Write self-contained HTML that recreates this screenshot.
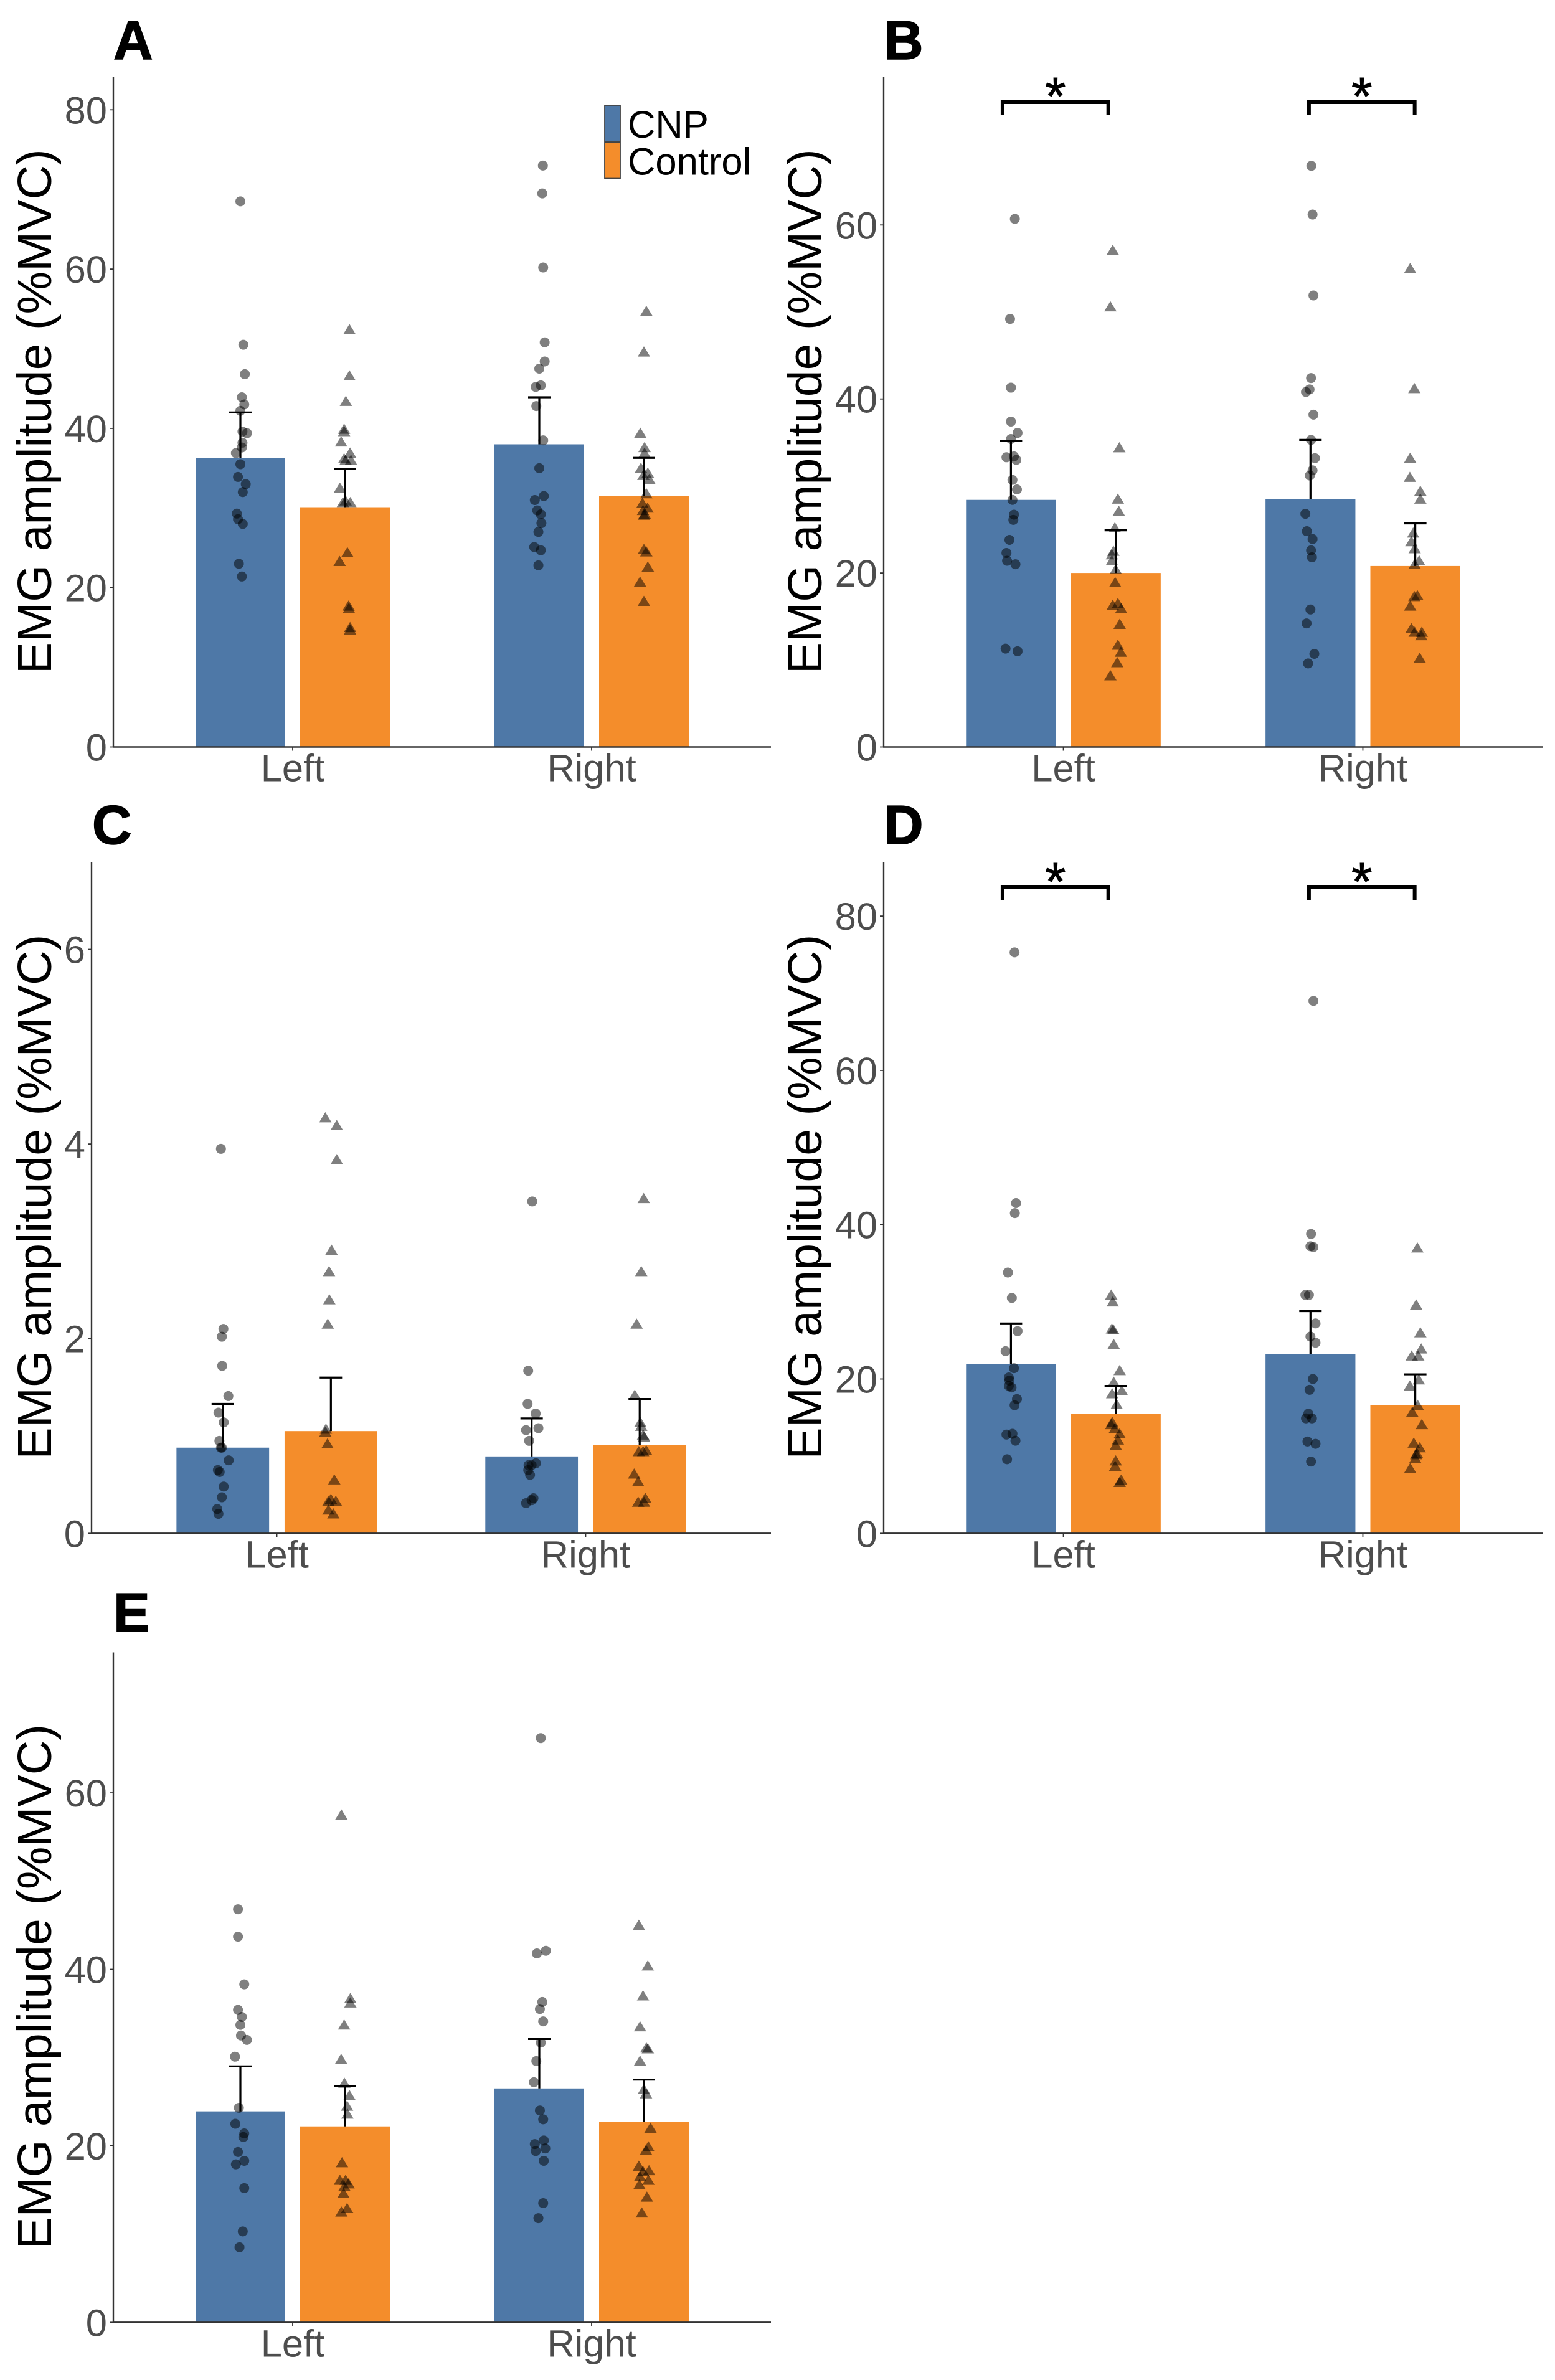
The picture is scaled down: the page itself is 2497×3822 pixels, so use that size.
<!DOCTYPE html>
<html lang="en">
<head>
<meta charset="utf-8">
<title>EMG amplitude by side and group</title>
<style>
html,body{margin:0;padding:0;background:#fff;}
svg{display:block;font-family:"Liberation Sans",Arial,sans-serif;}
</style>
</head>
<body>
<svg id="figure" xmlns="http://www.w3.org/2000/svg" width="2497" height="3822" viewBox="0 0 2497 3822"></svg>
<script>
const categories = ['Left', 'Right'];
const yAxisTitle = 'EMG amplitude (%MVC)';
const legendLabels = ['CNP', 'Control'];
const barColors = ['#4e78a7', '#f48d2b'];

/* Panel A */
const aTicks = [0, 20, 40, 60, 80];
const aMeans = [36.3, 30.1, 38.0, 31.5];
const aErrorTops = [42.0, 34.9, 43.9, 36.3];
const aCnpLeft = [68.5,50.5,46.8,43.9,43.0,42.2,39.6,39.4,38.2,37.6,36.9,35.5,33.9,33.0,32.0,29.3,28.6,28.0,23.0,21.4];
const aCnpLeftJitter = [0,.01,.015,.005,.013,0,.007,.022,.007,.005,-.015,0,-.008,.018,.008,-.012,-.008,.008,-.005,.005];
const aControlLeft = [52.4,46.6,43.4,39.9,39.6,38.3,36.9,36.2,36.0,36.0,32.5,30.9,30.7,30.7,24.4,23.3,17.7,17.4,15.0,14.7];
const aControlLeftJitter = [.015,.015,.003,-.003,-.003,-.013,.017,-.003,.02,.002,-.017,.002,-.007,.018,.008,-.018,.012,.013,.017,.017];
const aCnpRight = [73.0,69.5,60.2,50.8,48.4,47.5,45.4,45.2,42.8,38.5,35.0,31.5,31.0,29.7,29.2,28.1,27.0,25.1,24.7,22.8];
const aCnpRightJitter = [.012,.01,.013,.018,.018,0,.005,-.012,-.01,.013,0,.015,-.015,-.007,.005,.007,-.003,-.017,.005,-.003];
const aControlRight = [54.7,49.6,39.4,37.6,36.9,35.0,34.4,34.1,33.6,31.8,30.6,30.0,29.7,29.2,29.1,24.8,24.5,22.6,20.7,18.3];
const aControlRightJitter = [.008,0,-.012,.002,.002,-.01,.013,-.002,.018,.008,-.005,.012,-.003,.003,0,0,.008,.013,-.013,0];

/* Panel B */
const bTicks = [0, 20, 40, 60];
const bMeans = [28.4, 20.0, 28.5, 20.8];
const bErrorTops = [35.2, 24.9, 35.3, 25.7];
const bCnpLeft = [60.7,49.2,41.3,37.4,36.1,35.4,33.3,33.4,33.0,30.7,29.6,28.4,26.7,26.1,23.8,22.3,21.4,21.0,11.3,11.0];
const bCnpLeftJitter = [.013,-.003,0,0,.022,0,-.015,.01,.018,.005,.02,.005,.01,.008,-.005,-.015,-.013,.015,-.018,.022];
const bControlLeft = [57.1,50.6,34.4,28.5,27.1,25.2,22.5,22.1,21.4,20.4,18.9,16.5,16.3,15.9,14.1,11.7,10.9,9.7,8.2];
const bControlLeftJitter = [-.01,-.018,.012,.007,.01,-.003,-.008,-.013,-.013,0,-.002,.007,-.01,.018,.013,.007,.017,.005,-.018];
const bCnpRight = [66.8,61.2,51.9,42.4,41.1,40.8,38.2,35.3,33.2,31.8,31.2,26.8,24.8,23.9,22.6,21.8,15.8,14.2,10.7,9.6];
const bCnpRightJitter = [.003,.007,.01,.002,-.003,-.015,.01,.002,.015,.007,-.002,-.017,-.012,.007,.002,.005,0,-.013,.013,-.008];
const bControlRight = [55.0,41.2,33.2,31.0,29.4,28.5,24.6,23.6,22.8,21.4,21.0,17.4,17.3,16.2,13.6,13.2,13.2,12.8,10.2];
const bControlRightJitter = [-.017,-.003,-.017,-.018,.017,.017,-.007,-.013,-.002,.013,-.002,.007,-.003,-.017,-.013,-.002,.022,.02,.015];
const bSignificance = ['*', '*'];

/* Panel C */
const cTicks = [0, 2, 4, 6];
const cMeans = [0.88, 1.05, 0.79, 0.91];
const cErrorTops = [1.33, 1.60, 1.18, 1.38];
const cCnpLeft = [3.95,2.10,2.02,1.72,1.41,1.24,1.14,.95,.88,.88,.75,.65,.63,.48,.37,.25,.20];
const cCnpLeftJitter = [-.006,.002,-.003,-.002,.018,-.014,.003,-.011,-.003,-.006,.019,-.016,-.01,.003,-.003,-.018,-.014];
const cControlLeft = [4.27,4.19,3.84,2.91,2.69,2.40,2.15,1.07,1.04,.92,.55,.35,.33,.33,.24,.20];
const cControlLeftJitter = [-.018,.019,.019,.002,-.006,-.005,-.01,-.016,-.018,-.011,.011,0,-.008,.016,-.008,.008];
const cCnpRight = [3.41,1.67,1.33,1.23,1.06,1.08,.95,.72,.70,.70,.65,.60,.36,.34,.31];
const cCnpRightJitter = [.002,-.011,-.013,.013,-.018,.022,-.008,.014,-.01,0,-.011,-.005,.006,0,-.018];
const cControlRight = [3.44,2.69,2.15,1.42,1.14,1.10,1.01,.99,.84,.85,.84,.61,.53,.36,.32,.32];
const cControlRightJitter = [.013,.005,-.01,-.016,.002,.005,.011,.014,-.003,.021,.011,-.018,-.005,.018,-.005,.014];

/* Panel D */
const dTicks = [0, 20, 40, 60, 80];
const dMeans = [21.9, 15.5, 23.2, 16.6];
const dErrorTops = [27.2, 19.1, 28.8, 20.6];
const dCnpLeft = [75.3,42.8,41.5,33.8,30.5,26.2,23.6,21.4,20.2,19.8,19.1,18.9,17.4,16.6,12.8,12.9,12.0,9.6];
const dCnpLeftJitter = [.012,.017,.013,-.01,.003,.022,-.018,.01,-.007,-.005,-.007,.002,.02,.012,-.015,.005,.015,-.013];
const dControlLeft = [30.9,30.0,26.5,26.4,24.5,21.1,19.6,18.5,18.1,16.7,14.4,14.1,13.6,12.9,12.1,11.4,9.4,8.7,6.9,6.6];
const dControlLeftJitter = [-.015,-.01,-.013,-.008,-.007,.013,-.007,.02,-.012,.003,-.012,-.015,-.003,.013,.007,0,0,-.002,.018,.013];
const dCnpRight = [69.0,38.8,37.1,37.2,30.9,30.9,27.2,25.5,24.7,20.0,18.6,15.5,14.9,14.9,11.9,11.6,9.3];
const dCnpRightJitter = [.01,.002,.01,0,-.017,-.005,.017,0,.017,.008,-.003,-.007,-.015,.005,-.01,.017,.002];
const dControlRight = [37.0,29.6,26.0,23.9,23.0,23.0,19.9,19.1,16.6,15.7,14.1,11.7,11.1,10.4,10.2,9.7,8.4];
const dControlRightJitter = [.007,.003,.017,.02,-.012,.01,.012,-.018,.008,-.01,.022,-.005,.015,.005,.003,0,-.017];
const dSignificance = ['*', '*'];

/* Panel E */
const eTicks = [0, 20, 40, 60];
const eMeans = [23.9, 22.2, 26.5, 22.7];
const eErrorTops = [29.0, 26.8, 32.1, 27.5];
const eCnpLeft = [46.8,43.7,38.3,35.4,34.6,33.7,32.5,32.0,30.1,24.3,22.5,21.4,21.0,19.3,18.3,17.9,15.2,10.3,8.5];
const eCnpLeftJitter = [-.008,-.008,.013,-.008,.005,0,.002,.022,-.018,-.005,-.017,.013,.01,-.008,.013,-.015,.013,.008,-.003];
const eControlLeft = [57.5,36.7,36.2,33.7,29.8,27.1,25.7,24.5,23.6,18.1,16.1,16.1,15.7,15.4,14.6,12.9,12.5];
const eControlLeftJitter = [-.012,.018,.018,-.003,-.013,-.002,.015,.007,.008,-.01,-.017,.002,.012,-.002,-.005,.007,-.012];
const eCnpRight = [66.2,42.1,41.8,36.3,35.5,34.1,31.7,29.6,27.2,24.0,23.0,20.6,20.2,19.7,19.4,18.3,13.5,11.8];
const eCnpRightJitter = [.005,.022,-.008,.01,.002,.013,.005,-.01,-.018,.002,.013,.015,-.015,.02,-.012,.015,.013,-.003];
const eControlRight = [45.0,40.4,37.0,33.5,31.1,31.0,29.6,26.4,25.9,22.0,19.9,19.5,17.7,17.2,17.1,16.5,16.1,15.6,14.2,12.4];
const eControlRightJitter = [-.017,.013,-.003,-.013,.008,.013,-.013,0,.007,.022,.015,.007,-.017,.017,-.003,-.013,.015,-.015,.01,-.007];

const SVGNS = 'http://www.w3.org/2000/svg';
const figure = document.getElementById('figure');

function make(parent, tag, attrs, text) {
  const el = document.createElementNS(SVGNS, tag);
  for (const k in attrs) el.setAttribute(k, attrs[k]);
  if (text !== undefined) el.textContent = text;
  parent.appendChild(el);
  return el;
}

function drawPanel(p) {
  const g = make(figure, 'g', {});
  
  

  const unit = (p.right - p.left) / 2.2;
  const yScale = v => p.bottom - v * p.pxPerUnit;
  const tickX = cat => p.left + (0.6 + cat) * unit;
  const xScale = (cat, group, jitter) => tickX(cat) + ((group ? 0.175 : -0.175) + jitter) * unit;
  const barWidth = 0.3 * unit;

  const letter = make(g, 'text', {x: p.letterX, y: p.letterY, 'font-size': 88, 'font-weight': 'bold', fill: '#000', stroke: '#000', 'stroke-width': 1.5}, p.letter);
  
  

  const title = make(g, 'text', {transform: 'translate(' + p.titleX + ',' + ((p.top + p.bottom) / 2 - 1) + ') rotate(-90)', 'text-anchor': 'middle', 'font-size': 77, fill: '#000'}, yAxisTitle);
  
  

  /* bars */
  p.means.forEach((m, i) => {
    const cat = Math.floor(i / 2), grp = i % 2;
    const cx = xScale(cat, grp, 0);
    const bar = make(g, 'rect', {x: cx - barWidth / 2, y: yScale(m), width: barWidth, height: p.bottom - yScale(m), fill: barColors[grp]});
    
    
  });

  /* points */
  p.values.forEach((vals, i) => {
    const cat = Math.floor(i / 2), grp = i % 2;
    vals.forEach((v, j) => {
      const px = xScale(cat, grp, p.jitters[i][j]);
      const py = yScale(v);
      let mark;
      if (grp === 0) {
        mark = make(g, 'circle', {cx: px, cy: py, r: 8, fill: '#000', 'fill-opacity': 0.5});
        
        
      } else {
        mark = make(g, 'polygon', {points: (px - 10) + ',' + (py + 7.5) + ' ' + (px + 10) + ',' + (py + 7.5) + ' ' + px + ',' + (py - 9), fill: '#000', 'fill-opacity': 0.5});
        
        
      }
    });
  });

  /* error bars */
  p.means.forEach((m, i) => {
    const cat = Math.floor(i / 2), grp = i % 2;
    const cx = xScale(cat, grp, 0);
    const top = yScale(p.errorTops[i]);
    const err = make(g, 'path', {d: 'M' + cx + ' ' + yScale(m) + 'V' + top + 'M' + (cx - 18) + ' ' + top + 'H' + (cx + 18), stroke: '#000', 'stroke-width': 3.2, fill: 'none'});
    
    
  });

  /* axes */
  const yAxis = make(g, 'line', {x1: p.left, x2: p.left, y1: p.top, y2: p.bottom, stroke: '#333', 'stroke-width': 2.4});
  
  
  const xAxis = make(g, 'line', {x1: p.left - 1, x2: p.right, y1: p.bottom, y2: p.bottom, stroke: '#333', 'stroke-width': 2.4});
  
  

  p.ticks.forEach(t => {
    const y = yScale(t);
    const tick = make(g, 'line', {x1: p.left - 6, x2: p.left, y1: y, y2: y, stroke: '#333', 'stroke-width': 1.8});
    
    
    const label = make(g, 'text', {x: p.left - 10, y: y + 22, 'text-anchor': 'end', 'font-size': 61.5, fill: '#4d4d4d'}, String(t));
    
    
  });

  categories.forEach((c, i) => {
    const x = tickX(i);
    const tick = make(g, 'line', {x1: x, x2: x, y1: p.bottom, y2: p.bottom + 6, stroke: '#333', 'stroke-width': 1.8});
    
    
    const label = make(g, 'text', {x: x, y: p.bottom + 55, 'text-anchor': 'middle', 'font-size': 61.5, fill: '#4d4d4d'}, c);
    
    
  });

  /* significance brackets: spans given in category units relative to each tick */
  if (p.significance) {
    p.significance.forEach((s, i) => {
      const x1 = tickX(i) + p.bracketSpans[i][0] * unit;
      const x2 = tickX(i) + p.bracketSpans[i][1] * unit;
      const y = p.bracketY;
      const br = make(g, 'path', {d: 'M' + x1 + ' ' + (y + 21) + 'V' + y + 'H' + x2 + 'V' + (y + 21), stroke: '#000', 'stroke-width': 6, fill: 'none'});
      
      
      const star = make(g, 'text', {x: (x1 + x2) / 2, y: y + 20, 'text-anchor': 'middle', 'font-size': 85, fill: '#000', stroke: '#000', 'stroke-width': 1}, s);
      
      
    });
  }
}

drawPanel({letter:'A', left:182, right:1238, top:124, bottom:1199.5, pxPerUnit:12.79, letterX:182, letterY:95, titleX:82,
  ticks:aTicks, means:aMeans, errorTops:aErrorTops,
  values:[aCnpLeft,aControlLeft,aCnpRight,aControlRight],
  jitters:[aCnpLeftJitter,aControlLeftJitter,aCnpRightJitter,aControlRightJitter]});

drawPanel({letter:'B', left:1419, right:2477, top:124, bottom:1199.5, pxPerUnit:13.97, letterX:1419, letterY:95, titleX:1319,
  ticks:bTicks, means:bMeans, errorTops:bErrorTops,
  values:[bCnpLeft,bControlLeft,bCnpRight,bControlRight],
  jitters:[bCnpLeftJitter,bControlLeftJitter,bCnpRightJitter,bControlRightJitter],
  significance:bSignificance, bracketY:164, bracketSpans:[[-.203,.150],[-.180,.173]]});

drawPanel({letter:'C', left:147, right:1238, top:1384, bottom:2462.3, pxPerUnit:156.3, letterX:148, letterY:1355, titleX:82,
  ticks:cTicks, means:cMeans, errorTops:cErrorTops,
  values:[cCnpLeft,cControlLeft,cCnpRight,cControlRight],
  jitters:[cCnpLeftJitter,cControlLeftJitter,cCnpRightJitter,cControlRightJitter]});

drawPanel({letter:'D', left:1419, right:2477, top:1384, bottom:2462.3, pxPerUnit:12.39, letterX:1419, letterY:1355, titleX:1319,
  ticks:dTicks, means:dMeans, errorTops:dErrorTops,
  values:[dCnpLeft,dControlLeft,dCnpRight,dControlRight],
  jitters:[dCnpLeftJitter,dControlLeftJitter,dCnpRightJitter,dControlRightJitter],
  significance:dSignificance, bracketY:1425, bracketSpans:[[-.203,.150],[-.180,.173]]});

drawPanel({letter:'E', left:182, right:1238, top:2653.5, bottom:3729.3, pxPerUnit:14.17, letterX:182, letterY:2620, titleX:82,
  ticks:eTicks, means:eMeans, errorTops:eErrorTops,
  values:[eCnpLeft,eControlLeft,eCnpRight,eControlRight],
  jitters:[eCnpLeftJitter,eControlLeftJitter,eCnpRightJitter,eControlRightJitter]});

/* legend, panel A */
const legend = make(figure, 'g', {});


legendLabels.forEach((name, i) => {
  const key = make(legend, 'rect', {x: 971, y: 169 + i * 59.5, width: 25, height: 58, fill: barColors[i], stroke: '#444', 'stroke-width': 1.8});
  
  
  const label = make(legend, 'text', {x: 1008, y: 221 + i * 59.5, 'font-size': 61.5, fill: '#000'}, name);
  
  
});
</script>
</body>
</html>
